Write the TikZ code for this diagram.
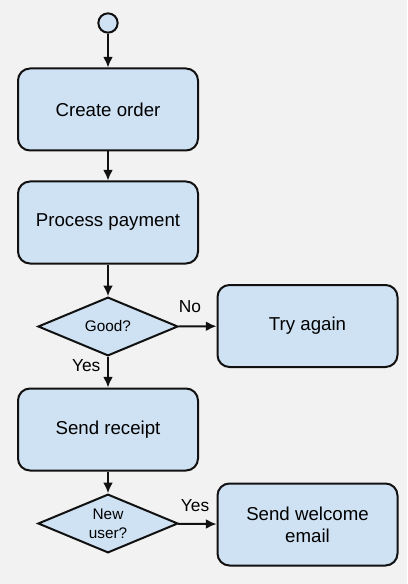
\documentclass[tikz,border=0pt]{standalone}
\usepackage{fontspec}
\setmainfont{Liberation Sans}
\usepackage{tikz}
\usetikzlibrary{arrows.meta,positioning,shapes.geometric}
\definecolor{canvas}{HTML}{F2F2F2}
\definecolor{boxfill}{HTML}{CFE2F3}
\definecolor{ink}{HTML}{111111}

\begin{document}
\begin{tikzpicture}[x=0.75pt,y=-0.75pt,
    flowbox/.style={draw=ink,fill=boxfill,line width=1.5pt,rounded corners=9pt,
      minimum width=135pt,minimum height=61.5pt,align=center,
      font=\fontsize{14}{16.5}\selectfont},
    choice/.style={diamond,draw=ink,fill=boxfill,line width=1.5pt,aspect=2.4,
      minimum width=105pt,minimum height=44pt,inner sep=0pt,align=center,
      font=\fontsize{11.5}{14.5}\selectfont},
    startdot/.style={circle,draw=ink,fill=boxfill,line width=1.5pt,minimum size=14.5pt,inner sep=0pt},
    flow/.style={draw=ink,line width=1.5pt,-{Latex[length=8pt,width=7.5pt]}},
    lbl/.style={font=\fontsize{13}{15}\selectfont,inner sep=1pt}]
  \fill[canvas] (0,0) rectangle (407,584);

  % Main column
  \node[startdot] (start) at (108,23) {};
  \node[flowbox] (order) at (108,109.5) {Create order};
  \node[flowbox] (payment) at (108,222.5) {Process payment};
  \node[choice] (good) at (108,326.5) {Good?};
  \node[flowbox] (receipt) at (108,429.5) {Send receipt};
  \node[choice] (newuser) at (108,523.5) {New\\user?};

  % Side branches
  \node[flowbox] (retry) at (307.5,326) {Try again};
  \node[flowbox] (welcome) at (307.5,524.5) {Send welcome\\email};

  \draw[flow] (start) -- (order);
  \draw[flow] (order) -- (payment);
  \draw[flow] (payment) -- (good);
  \draw[flow] (good) -- node[lbl,pos=0.3,above=8.5pt] (no) {No} (retry);
  \draw[flow] (good) -- node[lbl,pos=0.3,left=4pt] (yes1) {Yes} (receipt);
  \draw[flow] (receipt) -- (newuser);
  \draw[flow] (newuser) -- node[lbl,pos=0.44,above=7.25pt] (yes2) {Yes} (welcome);
\end{tikzpicture}
\end{document}
